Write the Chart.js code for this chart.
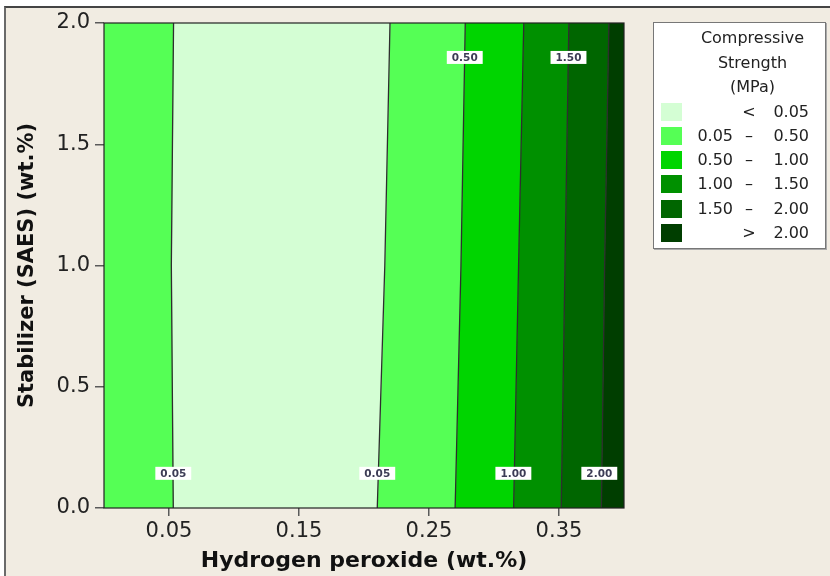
<!DOCTYPE html>
<html>
<head>
<meta charset="utf-8">
<title>Compressive Strength contour plot</title>
<script src="https://cdn.jsdelivr.net/npm/chart.js@4.4.1/dist/chart.umd.min.js"></script>
<style>
  html, body { margin: 0; padding: 0; background: #fff; }
  #wrap { position: relative; width: 830px; height: 576px; overflow: hidden; }
  #frame {
    position: absolute; left: 4px; top: 6px; width: 840px; height: 590px;
    background: #f1ece2; border-left: 2px solid #6a6a6a; border-top: 2px solid #444;
  }
  #chart { position: absolute; left: 0; top: 0; }
  #legend {
    position: absolute; left: 653px; top: 22px; width: 171px; height: 225px;
    background: #fff; border: 1px solid #777; box-shadow: 1px 1px 0 #aaa;
    font-family: 'DejaVu Sans', sans-serif; font-size: 16px; color: #222;
  }
  #legend .title { position: absolute; left: 20px; top: 3px; width: 157px; text-align: center; line-height: 24.5px; }
  #legend .row { position: absolute; left: 0; width: 171px; height: 24.4px; line-height: 24.4px; }
  #legend .sw { position: absolute; left: 7px; top: 3px; width: 21px; height: 18px; }
  #legend .lo { position: absolute; left: 0; width: 79px; text-align: right; }
  #legend .sym { position: absolute; left: 83px; width: 24px; text-align: center; }
  #legend .hi { position: absolute; left: 100px; width: 55px; text-align: right; }
</style>
</head>
<body>
<div id="wrap">
  <div id="frame"></div>
  <canvas id="chart" width="830" height="576"></canvas>
  <div id="legend">
    <div class="title">Compressive<br>Strength<br>(MPa)</div>
  </div>
</div>
<script>
// axis ranges and ticks
const xMin = 0.0, xMax = 0.4;
const yMin = 0.0, yMax = 2.0;
const xTicks = [0.05, 0.15, 0.25, 0.35];
const yTicks = [0.0, 0.5, 1.0, 1.5, 2.0];

// contour lines: x position of each level at the stabilizer values in yLevels
const yLevels = [0.0, 1.0, 2.0];
const line005a = [0.0533, 0.0518, 0.0535];
const line005b = [0.2102, 0.2160, 0.2200];
const line050 = [0.2701, 0.2746, 0.2779];
const line100 = [0.3151, 0.3189, 0.3229];
const line150 = [0.3517, 0.3546, 0.3576];
const line200 = [0.3826, 0.3851, 0.3884];

// legend bands
const bandLow = ['', '0.05', '0.50', '1.00', '1.50', ''];
const bandSym = ['<', '\u2013', '\u2013', '\u2013', '\u2013', '>'];
const bandHigh = ['0.05', '0.50', '1.00', '1.50', '2.00', '2.00'];
const bandColors = ['#d4fed4', '#55ff55', '#00d500', '#009000', '#006600', '#003e00'];

// band of each region between consecutive contour lines, left to right
const regionBand = [1, 0, 1, 2, 3, 4, 5];

// contour line labels
const labelText = ['0.05', '0.05', '0.50', '1.00', '1.50', '2.00'];
const labelX = [0.0533, 0.2102, 0.2775, 0.3149, 0.3573, 0.3810];
const labelY = [0.143, 0.143, 1.858, 0.143, 1.858, 0.143];

// build the legend
const legendEl = document.getElementById('legend');
bandColors.forEach(function(color, i) {
    const row = document.createElement('div');
    row.className = 'row';
    row.style.top = (76.5 + i * 24.3) + 'px';
    row.innerHTML = '<span class="sw" style="background:' + color + '"></span>' +
        '<span class="lo">' + bandLow[i] + '</span>' +
        '<span class="sym">' + bandSym[i] + '</span>' +
        '<span class="hi">' + bandHigh[i] + '</span>';
    legendEl.appendChild(row);
});

// region polygons (order 2, drawn underneath) and contour lines (order 1, on top)
const edges = [yLevels.map(() => xMin), line005a, line005b, line050, line100, line150, line200, yLevels.map(() => xMax)];
const datasets = [];
for (let r = 0; r < regionBand.length; r++) {
    const left = edges[r], right = edges[r + 1];
    const pts = yLevels.map((y, i) => ({ x: left[i], y: y }));
    for (let i = yLevels.length - 1; i >= 0; i--) {
        pts.push({ x: right[i], y: yLevels[i] });
    }
    datasets.push({
        data: pts,
        order: 2,
        fill: 'shape',
        backgroundColor: bandColors[regionBand[r]],
        borderColor: bandColors[regionBand[r]],
        borderWidth: 0.5,
        pointRadius: 0,
        tension: 0
    });
}
[line005a, line005b, line050, line100, line150, line200].forEach(function(xs) {
    datasets.push({
        data: yLevels.map((y, i) => ({ x: xs[i], y: y })),
        order: 1,
        fill: false,
        borderColor: '#2e2e2e',
        borderWidth: 1.3,
        pointRadius: 0,
        tension: 0
    });
});

// frame around plot and contour labels
const plotExtras = {
    id: 'plotExtras',
    afterDatasetsDraw(chart) {
        const { ctx, chartArea: a, scales } = chart;
        ctx.save();
        ctx.strokeStyle = '#222';
        ctx.lineWidth = 1.2;
        ctx.strokeRect(a.left, a.top, a.right - a.left, a.bottom - a.top);

        ctx.font = 'bold 10.5px "DejaVu Sans"';
        ctx.textAlign = 'center';
        ctx.textBaseline = 'middle';
        labelText.forEach(function(t, i) {
            const px = scales.x.getPixelForValue(labelX[i]);
            const py = scales.y.getPixelForValue(labelY[i]);
            const w = ctx.measureText(t).width + 10;
            ctx.fillStyle = '#fff';
            ctx.fillRect(px - w / 2, py - 6.5, w, 13);
            ctx.fillStyle = '#3c3c55';
            ctx.fillText(t, px, py + 0.5);
        });
        ctx.restore();
    }
};

Chart.defaults.font.family = '"DejaVu Sans", sans-serif';
Chart.defaults.color = '#222';

new Chart(document.getElementById('chart'), {
    type: 'line',
    data: { datasets: datasets },
    plugins: [plotExtras],
    options: {
        responsive: false,
        animation: false,
        events: [],
        layout: { padding: { left: 0, right: 206, top: 23, bottom: 0 } },
        plugins: { legend: { display: false }, tooltip: { enabled: false } },
        scales: {
            x: {
                type: 'linear',
                min: xMin,
                max: xMax,
                afterBuildTicks: s => { s.ticks = xTicks.map(v => ({ value: v })); },
                afterFit: s => { s.height = 68; },
                grid: { drawOnChartArea: false, color: '#5a5a5a', lineWidth: 1.5, tickLength: 8 },
                border: { display: false },
                ticks: {
                    autoSkip: false, maxRotation: 0, padding: 3,
                    font: { size: 21 }, color: '#222',
                    callback: v => v.toFixed(2)
                },
                title: {
                    display: true,
                    text: 'Hydrogen peroxide (wt.%)',
                    font: { size: 22, weight: 'bold' },
                    color: '#111',
                    padding: { top: 0, bottom: 2 }
                }
            },
            y: {
                type: 'linear',
                min: yMin,
                max: yMax,
                afterBuildTicks: s => { s.ticks = yTicks.map(v => ({ value: v })); },
                afterFit: s => { s.width = 104; },
                grid: { drawOnChartArea: false, color: '#5a5a5a', lineWidth: 1.5, tickLength: 9 },
                border: { display: false },
                ticks: {
                    autoSkip: false, padding: 5,
                    font: { size: 21 }, color: '#222',
                    callback: v => v.toFixed(1)
                },
                title: {
                    display: true,
                    text: 'Stabilizer (SAES) (wt.%)',
                    font: { size: 21, weight: 'bold' },
                    color: '#111',
                    padding: { top: 15, bottom: 0 }
                }
            }
        }
    }
});
</script>
</body>
</html>
